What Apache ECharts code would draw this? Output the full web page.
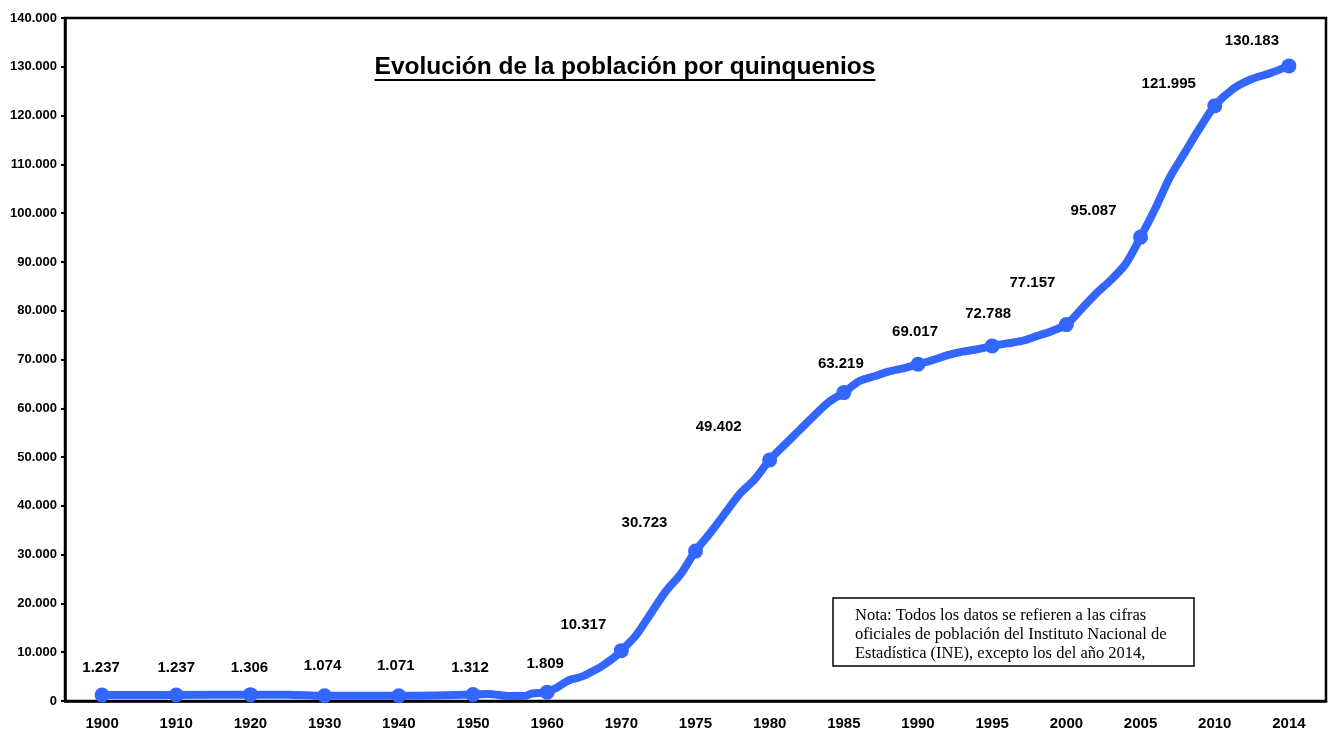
<!DOCTYPE html>
<html>
<head>
<meta charset="utf-8">
<script src="https://cdn.jsdelivr.net/npm/echarts@6/dist/echarts.min.js"></script>
<style>
  html, body { margin: 0; padding: 0; background: #fff; }
  #main { width: 1329px; height: 736px; }
</style>
</head>
<body>
<div id="main"></div>
<script>
// x axis categories
const years = ['1900', '1910', '1920', '1930', '1940', '1950', '1960', '1970', '1975',
  '1980', '1985', '1990', '1995', '2000', '2005', '2010', '2014'];
// population at each labelled year (marked points)
const population = [1237, 1237, 1306, 1074, 1071, 1312, 1809, 10317, 30723,
  49402, 63219, 69017, 72788, 77157, 95087, 121995, 130183];
// the blue line (years in between the labels)
const lineYears = [1900, 1910, 1920, 1925, 1930, 1940, 1945, 1950, 1952, 1955, 1957, 1958,
  1960, 1961, 1962, 1963, 1964, 1965, 1966, 1967, 1968, 1969,
  1970, 1971, 1972, 1973, 1974, 1975, 1976, 1977, 1978, 1979,
  1980, 1981, 1982, 1983, 1984, 1985, 1986, 1987, 1988, 1989,
  1990, 1991, 1992, 1993, 1994, 1995, 1996, 1997, 1998, 1999,
  2000, 2001, 2002, 2003, 2004, 2005, 2006, 2007, 2008, 2009,
  2010, 2011, 2012, 2013, 2014];
const lineValues = [1237, 1237, 1306, 1300, 1074, 1071, 1150, 1312, 1450, 1000, 1050, 1550,
  1809, 2500, 3400, 4300, 4700, 5200, 6000, 6800, 7800, 8900,
  10317, 13500, 18000, 22500, 26000, 30723, 34500, 38500, 42500, 45500,
  49402, 52500, 55500, 58500, 61300, 63219, 65500, 66500, 67500, 68200,
  69017, 69900, 70900, 71600, 72100, 72788, 73300, 73800, 74800, 75800,
  77157, 80300, 83500, 86300, 89600, 95087, 101000, 107500, 112500, 117500,
  121995, 125500, 127500, 128700, 130183];
// y axis
const yMax = 140000;
const yStep = 10000;

const titleText = 'Evolución de la población por quinquenios';
const noteText = 'Nota: Todos los datos se refieren a las cifras\n' +
  'oficiales de población del Instituto Nacional de\n' +
  'Estadística (INE), excepto los del año 2014,';

// where each value label sits relative to its point
const labelOffsets = [[-1, -27], [0, -27], [-1, -27], [-2, -30], [-3, -30], [-3, -27], [-2, -28],
  [-38, -26], [-51, -28], [-51, -33], [-3, -29], [-3, -32], [-4, -32], [-34, -42],
  [-47, -26], [-46, -22], [-37, -25]];

const blue = '#3366ff';
const sans = '"Liberation Sans", Arial, sans-serif';
const titleFont = 'bold 24.5px ' + sans;

function fmt(v) {
  return String(v).replace(/\B(?=(\d{3})+(?!\d))/g, '.');
}

// position of a year on the category axis (0 = first category)
function yearPos(y) {
  const ys = years.map(Number);
  for (let i = 0; i < ys.length - 1; i++) {
    if (y <= ys[i + 1]) return i + (y - ys[i]) / (ys[i + 1] - ys[i]);
  }
  return ys.length - 1;
}

// width of the title, for the underline
const ctx = document.createElement('canvas').getContext('2d');
ctx.font = titleFont;
const titleWidth = ctx.measureText(titleText).width;
const titleX = 625 - titleWidth / 2;

const chart = echarts.init(document.getElementById('main'));

const option = {
  animation: false,
  backgroundColor: '#fff',
  grid: {
    left: 65, right: 3, top: 18, bottom: 35,
    show: true,
    borderColor: '#000',
    borderWidth: 2.5
  },
  xAxis: [
    {
      type: 'category',
      data: years,
      boundaryGap: true,
      axisLine: { lineStyle: { color: '#000', width: 2.5 } },
      axisTick: { length: 5, lineStyle: { color: '#000', width: 2 } },
      axisLabel: {
        interval: 0, margin: 15,
        color: '#000', fontWeight: 'bold', fontSize: 15, fontFamily: sans
      },
      splitLine: { show: false }
    },
    {
      type: 'value',
      show: false,
      min: -0.5,
      max: years.length - 0.5
    }
  ],
  yAxis: {
    type: 'value',
    min: 0,
    max: yMax,
    interval: yStep,
    axisLine: { show: true, onZero: false, lineStyle: { color: '#000', width: 2.5 } },
    axisTick: { show: true, length: 4, lineStyle: { color: '#000', width: 2 } },
    axisLabel: {
      margin: 8,
      color: '#000', fontWeight: 'bold', fontSize: 13, fontFamily: sans,
      formatter: fmt
    },
    splitLine: { show: false }
  },
  series: [
    {
      name: 'línea',
      type: 'line',
      xAxisIndex: 1,
      data: lineYears.map((y, i) => [yearPos(y), lineValues[i]]),
      showSymbol: false,
      smooth: 0.3,
      lineStyle: { color: blue, width: 8, cap: 'round', join: 'round' },
      z: 2
    },
    {
      name: 'población',
      type: 'scatter',
      xAxisIndex: 0,
      symbol: 'circle',
      symbolSize: 15,
      itemStyle: { color: blue, opacity: 1 },
      data: population.map((v, i) => ({
        value: v,
        label: { offset: labelOffsets[i] }
      })),
      label: {
        show: true,
        position: 'inside',
        color: '#000',
        fontWeight: 'bold',
        fontSize: 15,
        fontFamily: sans,
        formatter: p => fmt(p.value)
      },
      z: 3
    }
  ],
  graphic: [
    {
      type: 'text',
      left: titleX,
      top: 55,
      style: {
        text: titleText,
        font: titleFont,
        fill: '#000'
      },
      z: 10
    },
    {
      type: 'line',
      shape: { x1: titleX, y1: 80, x2: titleX + titleWidth, y2: 80 },
      style: { stroke: '#000', lineWidth: 2 },
      z: 10
    },
    {
      type: 'rect',
      shape: { x: 833, y: 598, width: 361, height: 68 },
      style: { fill: '#fff', stroke: '#000', lineWidth: 1.5 },
      z: 10
    },
    {
      type: 'text',
      x: 855,
      y: 606,
      style: {
        text: noteText,
        font: '16.5px "Liberation Serif", "Times New Roman", serif',
        lineHeight: 19,
        fill: '#000'
      },
      z: 11
    }
  ]
};

chart.setOption(option);
</script>
</body>
</html>
